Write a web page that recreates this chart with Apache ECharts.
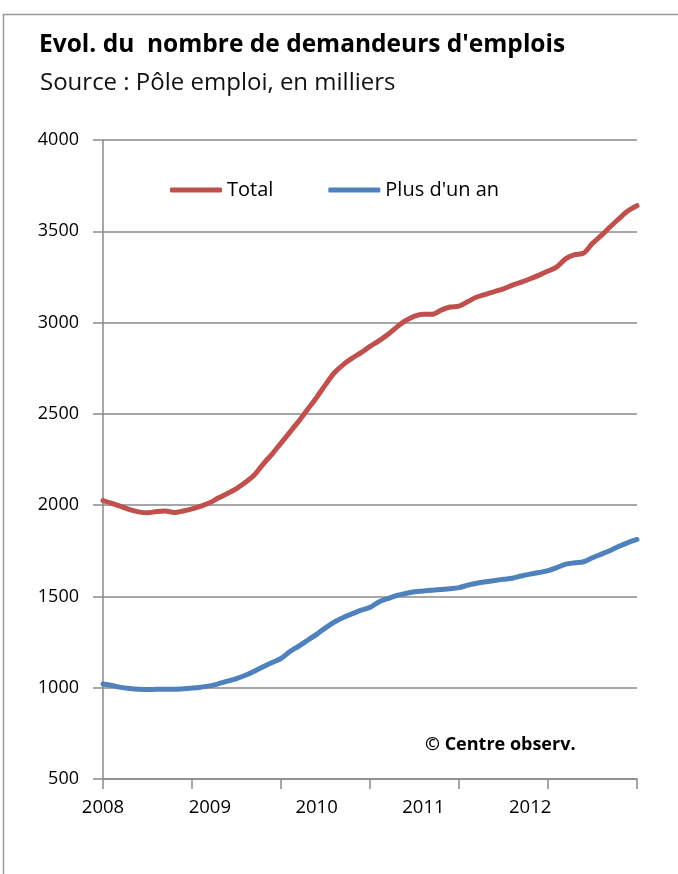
<!DOCTYPE html>
<html>
<head>
<meta charset="utf-8">
<script src="https://cdn.jsdelivr.net/npm/echarts@6/dist/echarts.min.js"></script>
<style>
    html, body { margin: 0; padding: 0; background: #fff; }
    #chart { width: 678px; height: 874px; }
</style>
</head>
<body>
<div id="chart"></div>
<script>
    // mois de janvier 2008 a janvier 2013
    var years = [2008, 2009, 2010, 2011, 2012, 2013]
    var months = []
    for (var y = 0; y < years.length; y++) {
        for (var m = 1; m <= 12; m++) {
            if (years[y] === 2013 && m > 1) break
            months.push(years[y] + '-' + (m < 10 ? '0' + m : m))
        }
    }

    // en milliers
    var total = [
        2025, 2010, 1993, 1975, 1963, 1958, 1965, 1968, 1960, 1968, 1980, 1995,
        2013, 2040, 2064, 2090, 2125, 2165, 2225, 2280, 2340, 2400, 2460, 2525,
        2590, 2660, 2725, 2770, 2805, 2835, 2870, 2900, 2935, 2975, 3010, 3035,
        3045, 3045, 3068, 3085, 3090, 3115, 3140, 3155, 3170, 3185, 3205, 3222,
        3240, 3260, 3282, 3305, 3350, 3372, 3380, 3434, 3478, 3525, 3570, 3612,
        3640
    ]
    var plusUnAn = [
        1020, 1012, 1002, 996, 992, 990, 991, 992, 991, 994, 998, 1003,
        1010, 1022, 1036, 1050, 1068, 1090, 1115, 1138, 1160, 1198, 1228, 1260,
        1292, 1328, 1360, 1385, 1405, 1425, 1440, 1470, 1488, 1505, 1516, 1526,
        1530, 1534, 1538, 1542, 1548, 1562, 1572, 1580, 1587, 1594, 1600, 1612,
        1622, 1631, 1641, 1658, 1677, 1684, 1690, 1712, 1732, 1752, 1775, 1795,
        1812
    ]

    var font = '"Open Sans", Lato, sans-serif'
    var myChart = echarts.init(document.getElementById('chart'))
    myChart.setOption({
        animation: false,
        backgroundColor: '#fff',
        textStyle: { fontFamily: font },
        graphic: [
            {
                type: 'rect',
                shape: { x: 3.5, y: 14.5, width: 720, height: 900 },
                style: { fill: 'none', stroke: '#9a9a9a', lineWidth: 1.5 }
            },
            {
                type: 'text', left: 39, top: 33,
                style: { text: "Evol. du  nombre de demandeurs d'emplois", font: 'bold 24.5px ' + font, fill: '#000' }
            },
            {
                type: 'text', left: 40, top: 71,
                style: { text: 'Source : Pôle emploi, en milliers', font: '24px ' + font, fill: '#111' }
            },
            {
                type: 'text', left: 425, top: 736,
                style: { text: '© Centre observ.', font: 'bold 18px ' + font, fill: '#000' }
            }
        ],
        legend: {
            left: 165,
            top: 175,
            itemWidth: 52,
            itemHeight: 5,
            itemGap: 55,
            icon: 'roundRect',
            textStyle: { fontSize: 20, color: '#000', fontFamily: font },
            data: ['Total', "Plus d'un an"]
        },
        grid: {
            left: 103,
            right: 41,
            top: 140,
            bottom: 95
        },
        xAxis: {
            type: 'category',
            boundaryGap: false,
            data: months,
            axisLine: { lineStyle: { color: '#8a8a8a', width: 1.5 } },
            axisTick: {
                interval: function (index) { return index % 10 === 0 },
                length: 10,
                lineStyle: { color: '#8a8a8a', width: 1.5 }
            },
            axisLabel: {
                interval: function (index) { return index % 12 === 0 && index < 60 },
                formatter: function (v) { return v.slice(0, 4) },
                color: '#000',
                fontSize: 18.5,
                margin: 19
            },
            splitLine: { show: false }
        },
        yAxis: {
            type: 'value',
            min: 500,
            max: 4000,
            interval: 500,
            axisLine: { show: true, lineStyle: { color: '#8a8a8a', width: 1.5 } },
            axisTick: { show: true, length: 10, lineStyle: { color: '#8a8a8a', width: 1.5 } },
            axisLabel: {
                color: '#000',
                fontSize: 18,
                margin: 24,
                formatter: function (v) { return String(v) }
            },
            splitLine: { lineStyle: { color: '#8a8a8a', width: 1.5 } }
        },
        series: [
            {
                name: 'Total',
                type: 'line',
                data: total,
                smooth: 0.3,
                symbol: 'none',
                color: '#C0504D',
                lineStyle: { width: 5, color: '#C0504D', cap: 'round' }
            },
            {
                name: "Plus d'un an",
                type: 'line',
                data: plusUnAn,
                smooth: 0.3,
                symbol: 'none',
                color: '#4F81BD',
                lineStyle: { width: 5, color: '#4F81BD', cap: 'round' }
            }
        ]
    })
</script>
</body>
</html>
